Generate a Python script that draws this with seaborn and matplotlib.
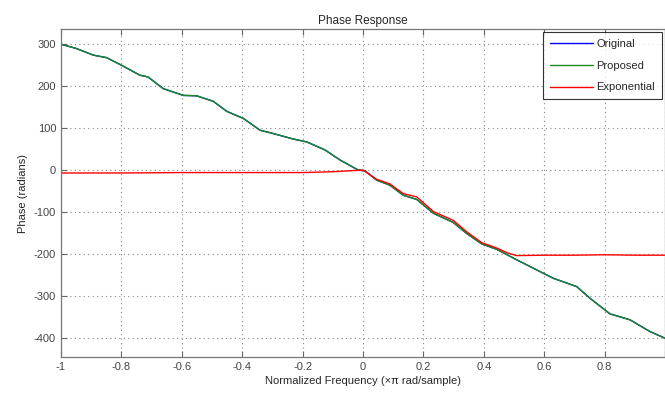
import pandas as pd
import seaborn as sns
import matplotlib.pyplot as plt

# Values
freq_proposed = [-1.0, -0.95, -0.893, -0.849, -0.80, -0.738, -0.712, -0.661, -0.595, -0.551,
                 -0.496, -0.451, -0.396, -0.341, -0.297, -0.231, -0.186, -0.126, -0.076, -0.016,
                 0.007, 0.045, 0.089, 0.133, 0.178, 0.233, 0.299, 0.343, 0.393, 0.443,
                 0.509, 0.575, 0.630, 0.708, 0.752, 0.818, 0.884, 0.950, 1.0]
phase_proposed = [300, 290, 274, 268, 250, 226, 222, 194, 178, 177,
                  164, 140, 123, 95, 87, 74, 67, 48, 24, 0,
                  -2, -24, -36, -60, -70, -103, -125, -151, -176, -189,
                  -214, -238, -258, -278, -306, -343, -357, -385, -401]

# Original is drawn first and hidden under the other two curves
freq_original = freq_proposed
phase_original = phase_proposed

freq_expo = [-1.0, -0.8, -0.6, -0.4, -0.2, -0.1, -0.05, 0.0, 0.045, 0.089, 0.133, 0.178,
             0.233, 0.299, 0.343, 0.393, 0.443, 0.48, 0.509, 0.6, 0.7, 0.8, 0.9, 1.0]
phase_expo = [-7, -7, -6, -6, -6, -4, -2, 0, -22, -33, -56, -64,
              -99, -120, -147, -173, -186, -198, -204, -203, -203, -202, -203, -203]

xtick_vals = [-1, -0.8, -0.6, -0.4, -0.2, 0, 0.2, 0.4, 0.6, 0.8, 1]
xtick_labels = ['-1', '-0.8', '-0.6', '-0.4', '-0.2', '0', '0.2', '0.4', '0.6', '0.8', '']

df = pd.concat([
    pd.DataFrame({'Frequency': freq_original, 'Phase': phase_original, 'Method': 'Original'}),
    pd.DataFrame({'Frequency': freq_proposed, 'Phase': phase_proposed, 'Method': 'Proposed'}),
    pd.DataFrame({'Frequency': freq_expo, 'Phase': phase_expo, 'Method': 'Exponential'}),
])

sns.set_style('white')
plt.rcParams['font.family'] = ['Liberation Sans', 'DejaVu Sans']
plt.rcParams['axes.unicode_minus'] = False

fig = plt.figure(figsize=(6.65, 3.99), dpi=100)
ax = fig.add_axes([0.0917, 0.105, 0.9083, 0.822])

palette = {'Original': '#0000ff', 'Proposed': '#1a8a1a', 'Exponential': '#ff0000'}
sns.lineplot(data=df, x='Frequency', y='Phase', hue='Method', palette=palette,
             linewidth=1.0, sort=False, estimator=None, ax=ax)

ax.set_xlim(-1, 1)
ax.set_ylim(-446, 336)
ax.set_xticks(xtick_vals)
ax.set_xticklabels(xtick_labels)
ax.set_yticks(range(-400, 301, 100))
ax.grid(True, linestyle=(0, (1, 3)), color='#888888', linewidth=0.8)
ax.tick_params(direction='in', length=4, colors='#666666', labelcolor='#444444',
               labelsize=8, top=True, bottom=True, left=True)
for s in ax.spines.values():
    s.set_color('#777777')
    s.set_linewidth(0.9)

ax.set_title('Phase Response', fontsize=8.5, pad=4)
ax.set_xlabel('Normalized Frequency (×π rad/sample)', fontsize=8, labelpad=3)
ax.set_ylabel('Phase (radians)', fontsize=8, labelpad=4)

leg = ax.legend(loc='upper right', fontsize=8, frameon=True, fancybox=False,
                borderpad=0.6, handlelength=3.9, handletextpad=0.3, labelspacing=1.05,
                borderaxespad=0.3)
leg.get_frame().set_edgecolor('#000000')
leg.get_frame().set_linewidth(0.8)

fig.savefig('out.png', dpi=100)
